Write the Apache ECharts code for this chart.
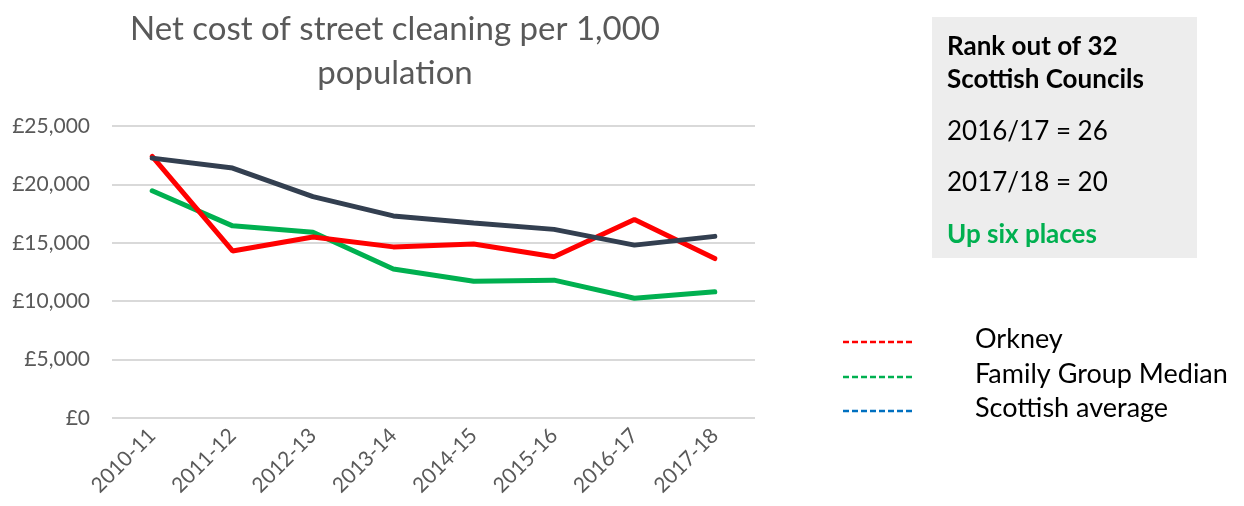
<!DOCTYPE html>
<html><head><meta charset="utf-8">
<script src="https://cdn.jsdelivr.net/npm/echarts@6/dist/echarts.min.js"></script>
<style>html,body{margin:0;padding:0;background:#fff}#c{width:1244px;height:506px}</style>
</head><body><div id="c"></div>
<script>
const categories = ['2010-11','2011-12','2012-13','2013-14','2014-15','2015-16','2016-17','2017-18'];
const orkney = [22400, 14300, 15500, 14650, 14900, 13800, 17000, 13650];
const familyMedian = [19450, 16450, 15900, 12750, 11700, 11800, 10250, 10800];
const scottishAvg = [22250, 21400, 18950, 17300, 16700, 16150, 14800, 15550];
const seriesNames = ['Orkney', 'Family Group Median', 'Scottish average'];
const rankLines = ['Rank out of 32', 'Scottish Councils', '2016/17 = 26', '2017/18 = 20', 'Up six places'];
const titleText = 'Net cost of street cleaning per 1,000\npopulation';

const FONT = 'Lato, "Open Sans", sans-serif';
const chart = echarts.init(document.getElementById('c'));
const legendColors = ['#FF0000', '#00B050', '#0070C0'];
const legendY = [342, 377, 411];
const graphics = [
  {type:'rect', shape:{x:932,y:17,width:265,height:241}, style:{fill:'#EDEDED'}, silent:true},
  {type:'text', x:947, y:47, style:{text:rankLines[0], font:'bold 26px '+FONT, fill:'#000', verticalAlign:'middle'}},
  {type:'text', x:947, y:80, style:{text:rankLines[1], font:'bold 26px '+FONT, fill:'#000', verticalAlign:'middle'}},
  {type:'text', x:947, y:132, style:{text:rankLines[2], font:'26px '+FONT, fill:'#000', verticalAlign:'middle'}},
  {type:'text', x:947, y:183, style:{text:rankLines[3], font:'26px '+FONT, fill:'#000', verticalAlign:'middle'}},
  {type:'text', x:947, y:235, style:{text:rankLines[4], font:'bold 26px '+FONT, fill:'#00B050', verticalAlign:'middle'}}
];
seriesNames.forEach((n,i)=>{
  graphics.push({type:'line', shape:{x1:843,y1:legendY[i],x2:913,y2:legendY[i]}, style:{stroke:legendColors[i], lineWidth:2.5, lineDash:[6,3]}});
  graphics.push({type:'text', x:975, y:legendY[i]-3, style:{text:n, font:'27px '+FONT, fill:'#000', verticalAlign:'middle'}});
});

chart.setOption({
  animation:false,
  title:{text:titleText, left:390, textAlign:'center', top:2,
    textStyle:{fontFamily:FONT, fontSize:33, fontWeight:'normal', color:'#595959', lineHeight:44}},
  grid:{left:112, right:489, top:126, bottom:88, containLabel:false},
  xAxis:{type:'category', data:categories, boundaryGap:true,
    axisLine:{show:false}, axisTick:{show:false},
    axisLabel:{rotate:45, fontFamily:FONT, fontSize:21, color:'#595959', margin:14, interval:0}},
  yAxis:{type:'value', min:0, max:25000, interval:5000,
    axisLine:{show:false}, axisTick:{show:false},
    splitLine:{lineStyle:{color:'#D9D9D9', width:2}},
    axisLabel:{fontFamily:FONT, fontSize:21, color:'#595959', margin:22,
      formatter:v=>'£'+v.toLocaleString('en-GB')}},
  series:[
    {name:seriesNames[0], type:'line', data:orkney, symbol:'none', lineStyle:{color:'#FF0000', width:5, cap:'round'}, itemStyle:{color:'#FF0000'}, z:3},
    {name:seriesNames[1], type:'line', data:familyMedian, symbol:'none', lineStyle:{color:'#00B050', width:5, cap:'round'}, itemStyle:{color:'#00B050'}, z:2},
    {name:seriesNames[2], type:'line', data:scottishAvg, symbol:'none', lineStyle:{color:'#333F50', width:5, cap:'round'}, itemStyle:{color:'#333F50'}, z:4}
  ],
  graphic:graphics
});
</script></body></html>
